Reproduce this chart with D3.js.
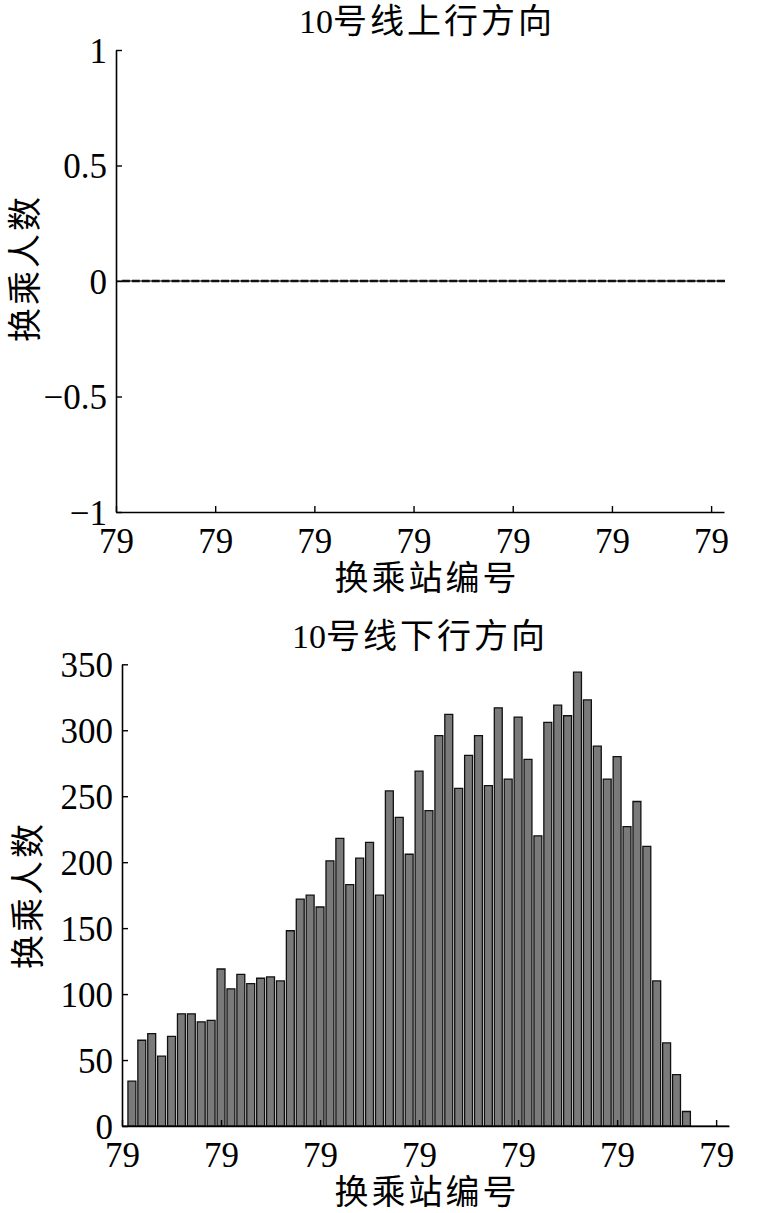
<!DOCTYPE html>
<html>
<head>
<meta charset="utf-8">
<script src="https://cdn.jsdelivr.net/npm/d3@7/dist/d3.min.js"></script>
<style>
  html, body { margin: 0; padding: 0; background: #fff; }
  svg { display: block; }
  text { fill: #000; }
</style>
</head>
<body>
<script>
// ---------------- data ----------------
const titlePrefix = "10";
const titles = ["号线上行方向", "号线下行方向"];
const xAxisTitle = "换乘站编号";
const yAxisTitle = "换乘人数";

// up direction: all transfer counts are zero (61 stations)
const upValues = [
  0,0,0,0,0,0,0,0,0,0,
  0,0,0,0,0,0,0,0,0,0,
  0,0,0,0,0,0,0,0,0,0,
  0,0,0,0,0,0,0,0,0,0,
  0,0,0,0,0,0,0,0,0,0,
  0,0,0,0,0,0,0,0,0,0,
  0
];
// down direction transfer counts
const downValues = [
  34, 65, 70, 53, 68, 85, 85, 79, 80, 119,
  104, 115, 108, 112, 113, 110, 148, 172, 175, 166,
  201, 218, 183, 203, 215, 175, 254, 234, 206, 269,
  239, 296, 312, 256, 281, 296, 258, 317, 263, 310,
  278, 220, 306, 319, 311, 344, 323, 288, 263, 280,
  227, 246, 212, 110, 63, 39, 11
];

const xTickPos = [0, 10, 20, 30, 40, 50, 60];
const xTickLabels = ["79", "79", "79", "79", "79", "79", "79"];

const upYTicks = [-1, -0.5, 0, 0.5, 1];
const upYTickLabels = ["\u22121", "\u22120.5", "0", "0.5", "1"];
const downYTicks = [0, 50, 100, 150, 200, 250, 300, 350];
const downYTickLabels = ["0", "50", "100", "150", "200", "250", "300", "350"];

// ---------------- layout ----------------
const W = 767, H = 1213;
const NUM_FONT = "'Liberation Serif', 'Times New Roman', serif";
const CJK_FONT = "'Liberation Serif', 'Noto Sans CJK SC', serif";

const panels = [
  { title: titles[0], values: upValues, yDomain: [-1, 1], yTicks: upYTicks, yTickLabels: upYTickLabels,
    left: 116, right: 724, top: 50, bottom: 512, titleX: 427, titleY: 33, xLabelY: 590, yLabelX: 25, yLabelY: 268 },
  { title: titles[1], values: downValues, yDomain: [0, 350], yTicks: downYTicks, yTickLabels: downYTickLabels,
    left: 122, right: 729, top: 664.3, bottom: 1126, titleX: 420, titleY: 648, xLabelY: 1204, yLabelX: 28, yLabelY: 895 }
];

const svg = d3.select("body").append("svg")
  .attr("width", W).attr("height", H)
  .attr("viewBox", `0 0 ${W} ${H}`);

svg.append("rect").attr("width", W).attr("height", H).attr("fill", "#fff");

panels.forEach(p => {
  const g = svg.append("g");
  const x = d3.scaleLinear().domain([0, 61.3]).range([p.left, p.right]);
  const y = d3.scaleLinear().domain(p.yDomain).range([p.bottom, p.top]);
  const step = x(1) - x(0);
  const bw = step * 0.8;
  const bars = p.values.map((v, i) => ({ idx: i + 1, v }));

  // baseline at zero
  g.append("line")
    .attr("x1", p.left).attr("x2", p.right)
    .attr("y1", y(0)).attr("y2", y(0))
    .attr("stroke", "#555").attr("stroke-width", 1.4);

  // bars (paths so zero-height bars still draw their edge)
  g.append("g").selectAll("path").data(bars).join("path")
    .attr("d", d => {
      const x0 = x(d.idx) - bw / 2, x1 = x(d.idx) + bw / 2;
      const y0 = y(0), y1 = y(d.v);
      return `M${x0},${y0}V${y1}H${x1}V${y0}Z`;
    })
    .attr("fill", "#7a7a7a")
    .attr("stroke", "#111")
    .attr("stroke-width", d => d.v === 0 ? 2.4 : 1.3);

  // axes
  const xAxis = d3.axisBottom(x).tickValues(xTickPos)
    .tickFormat((d, i) => xTickLabels[i]).tickSizeInner(-6).tickSizeOuter(0).tickPadding(14);
  const gx = g.append("g").attr("transform", `translate(0,${p.bottom})`).call(xAxis);
  gx.select(".domain").attr("stroke", "#000").attr("stroke-width", 1.6);
  gx.selectAll(".tick line").attr("stroke", "#000").attr("stroke-width", 1.4);
  gx.selectAll(".tick text")
    .attr("font-family", NUM_FONT).attr("font-size", 35).attr("fill", "#000")
    .attr("dy", null).attr("y", 41).attr("dominant-baseline", "auto");

  const yAxis = d3.axisLeft(y).tickValues(p.yTicks)
    .tickFormat((d, i) => p.yTickLabels[i]).tickSizeInner(-6).tickSizeOuter(0).tickPadding(14);
  const gy = g.append("g").attr("transform", `translate(${p.left},0)`).call(yAxis);
  gy.select(".domain").attr("stroke", "#000").attr("stroke-width", 1.6);
  gy.selectAll(".tick line").attr("stroke", "#000").attr("stroke-width", 1.4);
  gy.selectAll(".tick text")
    .attr("font-family", NUM_FONT).attr("font-size", 35).attr("fill", "#000")
    .attr("x", -9).attr("dy", "0.35em");

  // title: digits without extra spacing, CJK part slightly spaced
  const t = g.append("text")
    .attr("x", p.titleX).attr("y", p.titleY)
    .attr("text-anchor", "middle")
    .attr("font-family", CJK_FONT).attr("font-size", 34);
  t.append("tspan").text(titlePrefix);
  t.append("tspan").attr("letter-spacing", 3).text(p.title);

  // x axis title
  g.append("text")
    .attr("x", 427).attr("y", p.xLabelY)
    .attr("text-anchor", "middle")
    .attr("font-family", CJK_FONT).attr("font-size", 34)
    .attr("letter-spacing", 3)
    .text(xAxisTitle);

  // y axis title
  g.append("text")
    .attr("transform", `translate(${p.yLabelX},${p.yLabelY}) rotate(-90)`)
    .attr("text-anchor", "middle")
    .attr("dominant-baseline", "central")
    .attr("font-family", CJK_FONT).attr("font-size", 34)
    .attr("letter-spacing", 3)
    .text(yAxisTitle);
});
</script>
</body>
</html>
